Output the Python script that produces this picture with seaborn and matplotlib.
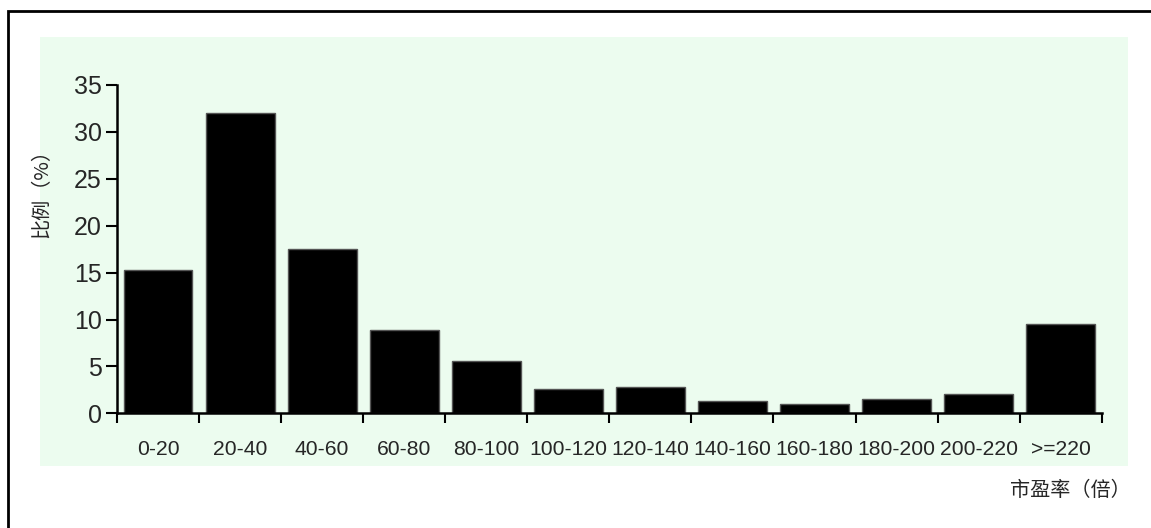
import matplotlib
matplotlib.use("Agg")
import matplotlib.pyplot as plt
import seaborn as sns
import pandas as pd
import numpy as np
from matplotlib.patches import Rectangle

categories = ["0-20", "20-40", "40-60", "60-80", "80-100", "100-120", "120-140",
              "140-160", "160-180", "180-200", "200-220", ">=220"]
values = [15.25, 32.0, 17.55, 8.9, 5.6, 2.55, 2.8, 1.3, 1.02, 1.52, 2.02, 9.47]
yticks = [0, 5, 10, 15, 20, 25, 30, 35]
ylabel = "比例（%）"
xlabel = "市盈率（倍）"

sns.set_theme(style="white")
plt.rcParams['font.family'] = ['Liberation Sans', 'Noto Sans CJK SC', 'DejaVu Sans']

W, H = 1151, 528
fig = plt.figure(figsize=(W / 100, H / 100), dpi=100)
fig.patch.set_facecolor("white")

def fx(px):
    return px / W

def fy(py):
    return 1 - py / H

# outer border (left and top visible; right/bottom run off the image)
fig.patches.append(Rectangle((fx(8), fy(700)), fx(1300), fy(11) - fy(700),
                             transform=fig.transFigure, fill=False,
                             edgecolor="black", linewidth=2.0, zorder=-2))
# green plot area background
fig.patches.append(Rectangle((fx(40), fy(466)), fx(1128) - fx(40), fy(37) - fy(466),
                             transform=fig.transFigure, facecolor="#ECFCEF",
                             edgecolor="none", zorder=-1))

ax = fig.add_axes([fx(117), fy(413.3), fx(1101.7) - fx(117), fy(85) - fy(413.3)])
ax.set_zorder(2)
ax.set_facecolor("none")
ax.patch.set_alpha(0)

df = pd.DataFrame({"cat": categories, "val": values})
sns.barplot(data=df, x="cat", y="val", color="black", width=0.84,
            edgecolor="#555555", linewidth=1.0, saturation=1, ax=ax)

ax.set_xlim(-0.5, len(categories) - 0.5)
ax.set_ylim(0, 35)
ax.set_yticks(yticks)
ax.set_yticklabels([str(t) for t in yticks], fontsize=18)
ax.set_xticks(range(len(categories)))
ax.set_xticklabels(categories, fontsize=15.2)
ax.set_xticks(np.arange(-0.5, len(categories)), minor=True)
ax.tick_params(axis="x", which="both", bottom=True)
ax.tick_params(axis="y", which="both", left=True)
ax.tick_params(axis="x", which="major", length=0, pad=19)
ax.tick_params(axis="x", which="minor", length=7, width=1.5, direction="out", color="black")
ax.tick_params(axis="y", which="major", length=8, width=1.5, direction="out", color="black", pad=3)

for s in ["top", "right"]:
    ax.spines[s].set_visible(False)
for s in ["left", "bottom"]:
    ax.spines[s].set_color("black")
    ax.spines[s].set_linewidth(1.8)

ax.set_xlabel("")
ax.set_ylabel("")

fig.text(fx(42), fy(189), ylabel, rotation=90, ha="center", va="center", fontsize=14.5,
         family=['Noto Sans CJK SC', 'DejaVu Sans'])
fig.text(fx(1131), fy(490), xlabel, ha="right", va="center", fontsize=14.5,
         family=['Noto Sans CJK SC', 'DejaVu Sans'])

fig.savefig("out.png", dpi=100)
